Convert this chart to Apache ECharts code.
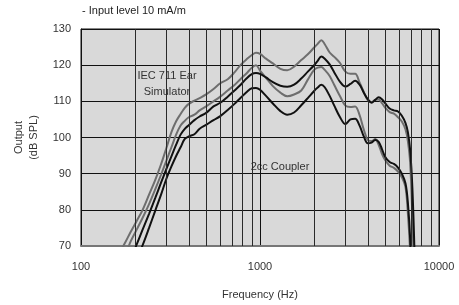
<!DOCTYPE html>
<html>
<head>
<meta charset="utf-8">
<script src="https://cdn.jsdelivr.net/npm/echarts@6/dist/echarts.min.js"></script>
<style>
  html, body { margin: 0; padding: 0; background: #fff; }
  #chart { width: 459px; height: 305px; }
</style>
</head>
<body>
<div id="chart"></div>
<script>
// 频率点 (Hz)
const freqHz = [160, 175, 190, 205, 220, 240, 260, 280, 300, 320, 340, 360, 380, 400, 430, 460, 500, 550, 600, 660,
  720, 780, 840, 900, 950, 1000, 1080, 1180, 1300, 1420, 1550, 1700, 1850, 2000, 2100, 2200, 2300, 2450, 2600, 2800,
  3000, 3200, 3400, 3600, 3800, 4000, 4200, 4400, 4600, 4800, 5000, 5300, 5600, 5900, 6200, 6500, 6700, 6900, 7100, 7300]

// IEC 711 耳模拟器 (灰色, 上)
const iecHigh = [67.1, 70.6, 74.0, 77.0, 79.8, 84.2, 88.3, 92.6, 97.1, 101.5, 104.5, 106.5, 108.2, 109.3, 110.2, 110.9, 111.9, 113.4, 115.0, 116.1,
  118.0, 120.1, 121.6, 122.8, 123.4, 123.1, 121.8, 120.5, 119.0, 118.6, 119.6, 121.4, 123.0, 124.8, 125.9, 126.9, 125.8, 123.5, 122.3, 120.6,
  118.2, 117.6, 117.6, 115.2, 112.6, 110.3, 109.8, 110.4, 110.5, 109.5, 108.3, 107.0, 106.6, 105.6, 104.4, 102.2, 99.0, 93.0, 78.0, 58.0]

// 2cc 耦合器 (灰色, 下)
const ccHigh = [63.0, 67.0, 71.4, 74.6, 77.6, 81.6, 85.7, 89.7, 93.6, 97.3, 100.8, 103.3, 104.6, 105.6, 106.3, 107.5, 108.6, 110.0, 111.3, 113.0,
  114.5, 116.2, 117.7, 119.3, 120.0, 118.5, 116.5, 114.2, 112.4, 111.4, 111.9, 113.0, 116.0, 118.6, 119.3, 119.5, 118.7, 117.0, 114.5, 111.4,
  108.8, 108.4, 108.6, 106.2, 102.2, 99.3, 99.0, 99.6, 98.0, 95.5, 93.8, 92.2, 91.6, 90.6, 89.0, 86.2, 79.0, 68.0, 48.0, 40.0]

// IEC 711 耳模拟器 (黑色, 上)
const iecLow = [60.0, 63.5, 66.5, 70.5, 74.3, 78.9, 83.3, 87.5, 91.3, 94.8, 98.0, 100.8, 102.4, 103.4, 104.8, 105.8, 106.8, 108.6, 109.6, 111.3,
  113.0, 114.6, 116.3, 117.5, 117.8, 117.6, 116.6, 115.3, 114.3, 114.0, 114.6, 116.3, 118.2, 119.9, 121.2, 122.4, 121.8, 120.2, 118.0, 115.4,
  114.1, 114.8, 115.7, 114.6, 112.4, 110.6, 109.6, 110.4, 111.1, 110.6, 109.5, 108.0, 107.5, 107.2, 106.0, 104.0, 101.5, 96.5, 86.0, 68.0]

// 2cc 耦合器 (黑色, 下)
const ccLow = [56.0, 60.0, 63.5, 66.5, 70.0, 75.0, 79.8, 84.2, 88.6, 92.0, 94.9, 97.3, 99.6, 100.3, 100.9, 102.4, 103.5, 104.8, 105.9, 107.6,
  109.3, 111.0, 112.5, 113.6, 113.7, 113.2, 111.5, 109.4, 107.3, 106.3, 106.9, 108.9, 110.9, 112.8, 113.8, 114.6, 113.9, 111.5, 108.8, 105.6,
  103.7, 105.0, 105.2, 103.3, 100.3, 98.4, 98.6, 99.3, 98.8, 96.8, 94.7, 93.2, 92.7, 91.7, 90.0, 87.3, 82.0, 72.0, 50.0, 40.0]

// 次网格线 (Hz)
const minorFreq = [200, 300, 400, 500, 600, 700, 800, 900, 2000, 3000, 4000, 5000, 6000, 7000, 8000, 9000]

const FONT = 'Liberation Sans, Arial, sans-serif'

const toPairs = vals => freqHz.map((f, i) => [f, vals[i]])

const makeLine = (name, vals, color, z) => ({
  name,
  type: 'line',
  data: toPairs(vals),
  smooth: 0.35,
  showSymbol: false,
  clip: true,
  z,
  lineStyle: { color, width: 2 }
})

const myChart = echarts.init(document.querySelector('#chart'), null, { renderer: 'canvas' })

const option = {
  animation: false,
  title: {
    text: '- Input level 10 mA/m',
    left: 77,
    top: 0,
    textStyle: { fontFamily: FONT, fontSize: 11, fontWeight: 'normal', color: '#222' }
  },
  grid: {
    left: 81,
    right: 20,
    top: 29,
    bottom: 58,
    show: true,
    backgroundColor: '#d9d9d9',
    borderColor: '#111',
    borderWidth: 1
  },
  xAxis: {
    type: 'log',
    logBase: 10,
    min: 100,
    max: 10000,
    name: 'Frequency (Hz)',
    nameLocation: 'middle',
    nameGap: 43,
    nameTextStyle: { fontFamily: FONT, fontSize: 11, color: '#333' },
    axisLine: { lineStyle: { color: '#777', width: 2 } },
    axisTick: { show: false },
    axisLabel: { fontFamily: FONT, fontSize: 11, color: '#333', margin: 15, formatter: v => String(Math.round(v)) },
    splitLine: { show: true, lineStyle: { color: '#111', width: 1 } }
  },
  yAxis: {
    type: 'value',
    min: 70,
    max: 130,
    interval: 10,
    name: 'Output\n(dB SPL)',
    nameLocation: 'middle',
    nameGap: 40,
    nameRotate: 90,
    nameTextStyle: { fontFamily: FONT, fontSize: 11, color: '#333', lineHeight: 15 },
    axisLine: { show: true, lineStyle: { color: '#111', width: 1 } },
    axisTick: { show: false },
    axisLabel: { fontFamily: FONT, fontSize: 11, color: '#333', margin: 10 },
    splitLine: { show: true, lineStyle: { color: '#111', width: 1 } }
  },
  series: [
    {
      ...makeLine('IEC 711 (gray)', iecHigh, '#6e6e6e', 3),
      // 次网格线
      markLine: {
        silent: true,
        symbol: ['none', 'none'],
        label: { show: false },
        lineStyle: { color: '#2a2a2a', width: 1, type: 'solid' },
        data: minorFreq.map(f => ({ xAxis: f }))
      }
    },
    makeLine('2cc (gray)', ccHigh, '#6e6e6e', 3),
    makeLine('IEC 711 (black)', iecLow, '#111', 4),
    makeLine('2cc (black)', ccLow, '#111', 4)
  ],
  graphic: [
    {
      type: 'text',
      x: 167,
      y: 68,
      style: {
        text: 'IEC 711 Ear\nSimulator',
        align: 'center',
        lineHeight: 16,
        font: '11px ' + FONT,
        fill: '#333'
      }
    },
    {
      type: 'text',
      x: 280,
      y: 161,
      style: {
        text: '2cc Coupler',
        align: 'center',
        font: '11px ' + FONT,
        fill: '#333'
      }
    }
  ]
}

myChart.setOption(option)
</script>
</body>
</html>
